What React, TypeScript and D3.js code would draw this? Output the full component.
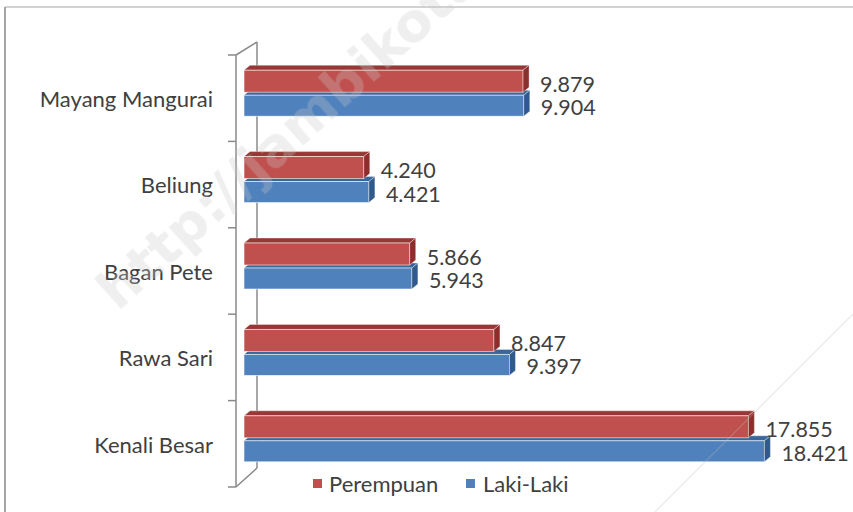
import React from "react";
import * as d3 from "d3";

const categories = ["Mayang Mangurai", "Beliung", "Bagan Pete", "Rawa Sari", "Kenali Besar"];
const perempuan = [9879, 4240, 5866, 8847, 17855];
const lakiLaki = [9904, 4421, 5943, 9397, 18421];
const seriesNames = ["Perempuan", "Laki-Laki"];

const W = 853;
const H = 512;
const FONT = "Lato, 'Open Sans', sans-serif";
const FS = 22;
const FS_VAL = 21.5;
const TEXT = "#404040";

const fmt = (v: number) => d3.format(",")(v).replace(/,/g, ".");

export default function App() {
  const y = d3.scaleBand<string>().domain(categories).range([55, 487]).padding(0);
  const x = d3.scaleLinear().domain([0, 20000]).range([244, 809]);
  const dx = 6;
  const dy = 5;

  const colors = {
    red: { front: "#C0504D", top: "#963835", side: "#8C2E2B" },
    blue: { front: "#4F81BD", top: "#3A6699", side: "#2E5A8C" },
  };

  const bar = (key: string, v: number, top: number, h: number, c: any) => {
    const x0 = x(0);
    const x1 = x(v);
    const b = top + h;
    return (
      <g key={key}>
        <path
          d={`M${x0},${top}L${x0 + dx},${top - dy}L${x1 + dx},${top - dy}L${x1},${top}Z`}
          fill={c.top}
          stroke="#fff"
          strokeOpacity={0.6}
          strokeWidth={0.6}
        />
        <rect x={x0} y={top} width={x1 - x0} height={h} fill={c.front} stroke="#fff" strokeOpacity={0.7} strokeWidth={0.8} />
        <path
          d={`M${x1},${top}L${x1 + dx},${top - dy}L${x1 + dx},${b - dy}L${x1},${b}Z`}
          fill={c.side}
          stroke="#fff"
          strokeOpacity={0.6}
          strokeWidth={0.6}
        />
      </g>
    );
  };

  const tickYs = [...categories.map((c) => y(c) as number), 487];

  return (
    <svg width={W} height={H} style={{ position: "absolute", left: 0, top: 0, background: "#fff" }}>
      <rect x={0} y={0} width={W} height={H} fill="#fff" />
      {/* outer border */}
      <line x1={5} y1={7} x2={W} y2={7} stroke="#a6a6a6" strokeWidth={1.2} />
      <line x1={5} y1={7} x2={5} y2={H} stroke="#a6a6a6" strokeWidth={2} />

      {/* 3D axis wall */}
      <line x1={257} y1={42} x2={257} y2={468} stroke="#8a8a8a" strokeWidth={1.5} />
      <line x1={236} y1={55} x2={257} y2={42} stroke="#8a8a8a" strokeWidth={1.5} />
      <line x1={236} y1={487} x2={257} y2={468} stroke="#8a8a8a" strokeWidth={1.5} />
      <line x1={236} y1={55} x2={236} y2={487} stroke="#8a8a8a" strokeWidth={1.5} />
      {tickYs.map((t, i) => (
        <line key={i} x1={228} y1={t} x2={236} y2={t} stroke="#8a8a8a" strokeWidth={1.5} />
      ))}

      {/* bars */}
      {categories.map((c, i) => {
        const yc = (y(c) as number) + y.bandwidth() / 2;
        return (
          <g key={c}>
            {bar("b" + i, lakiLaki[i], yc - 3, 21, colors.blue)}
            {bar("r" + i, perempuan[i], yc - 28, 22, colors.red)}
          </g>
        );
      })}

      {/* category labels */}
      {categories.map((c) => (
        <text
          key={c}
          x={213}
          y={(y(c) as number) + y.bandwidth() / 2 + 1}
          dy="0.35em"
          textAnchor="end"
          fontFamily={FONT}
          fontSize={FS}
          fill={TEXT}
        >
          {c}
        </text>
      ))}

      {/* value labels */}
      {categories.map((c, i) => {
        const yc = (y(c) as number) + y.bandwidth() / 2;
        return (
          <g key={"v" + c} fontFamily={FONT} fontSize={FS_VAL} fill={TEXT}>
            <text x={x(perempuan[i]) + 17} y={yc - 17 + 3} dy="0.35em">
              {fmt(perempuan[i])}
            </text>
            <text x={x(lakiLaki[i]) + 17} y={yc + 7.5 + 2} dy="0.35em">
              {fmt(lakiLaki[i])}
            </text>
          </g>
        );
      })}

      {/* legend */}
      <g fontFamily={FONT} fontSize={FS} fill={TEXT}>
        <rect x={313} y={479} width={9} height={9} fill={colors.red.front} />
        <text x={329} y={484.5} dy="0.35em">
          {seriesNames[0]}
        </text>
        <rect x={466} y={479} width={9} height={9} fill={colors.blue.front} />
        <text x={483} y={484.5} dy="0.35em">
          {seriesNames[1]}
        </text>
      </g>

      {/* watermark */}
      <g opacity={0.3} pointerEvents="none">
        <text
          transform="translate(118,312) rotate(-42)"
          fontFamily="'DejaVu Sans', sans-serif"
          fontWeight="bold"
          fontSize={54}
          fill="#c8c8c8"
        >
          http://jambikota.go.id
        </text>
        <line x1={655} y1={512} x2={853} y2={314} stroke="#bdbdbd" strokeWidth={1.2} />
      </g>
    </svg>
  );
}
